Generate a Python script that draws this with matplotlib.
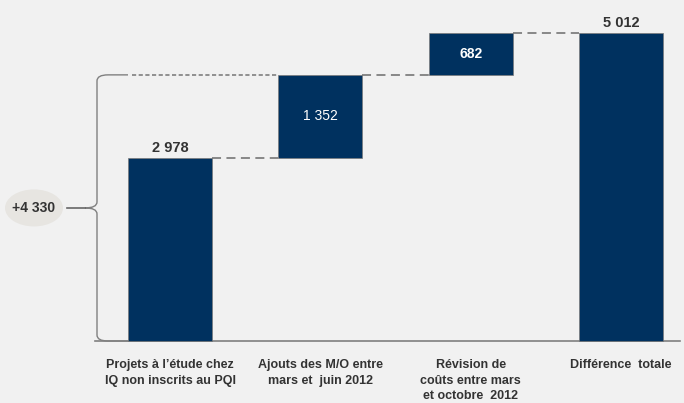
import matplotlib.pyplot as plt
from matplotlib.patches import Ellipse, PathPatch
from matplotlib.path import Path
import numpy as np

plt.rcParams['font.family'] = ['Liberation Sans', 'DejaVu Sans']

categories = ["Projets à l\u2019étude chez\nIQ non inscrits au PQI",
              "Ajouts des M/O entre\nmars et  juin 2012",
              "Révision de\ncoûts entre mars\net octobre  2012",
              "Différence  totale"]
steps = [2978, 1352, 682]
total = 5012
bracket_value = 4330
value_labels = ["2 978", "1 352", "682", "5 012"]

bar_color = '#00315f'
grey = '#808080'
bg = '#f1f1f1'
txt = '#333333'

fig = plt.figure(figsize=(6.84, 4.03), dpi=100, facecolor=bg)
ax = fig.add_axes([0, 0, 1, 1])
ax.set_facecolor(bg)
ax.axis('off')

W, H = 684, 403
x0, xstep = 170, 150.33      # pixel centre of first bar, spacing
base_px, yscale = 341, 0.06146  # pixel baseline (from top), px per unit
ax.set_xlim(-x0 / xstep, (W - x0) / xstep)
ax.set_ylim(-(H - base_px) / yscale, base_px / yscale)
px = 1 / xstep          # one pixel in x data units
py = 1 / yscale         # one pixel in y data units

heights = steps + [total]
bottoms = list(np.concatenate([[0], np.cumsum(steps)[:-1]])) + [0]
xs = np.arange(len(categories))
bw = 0.56
ax.bar(xs, heights, bw, bottom=bottoms, color=bar_color,
       edgecolor='#7a7a7a', linewidth=0.5, zorder=3)

# baseline
ax.plot([(95 - x0) * px, (680 - x0) * px], [0, 0], color=grey, lw=1.2, zorder=2)

# connectors
tops = [b + h for b, h in zip(bottoms, heights)]
for i in range(len(xs) - 1):
    ax.plot([xs[i] + bw / 2, xs[i + 1] - bw / 2], [tops[i], tops[i]],
            color=grey, lw=1.3, dashes=(5, 3), zorder=2)

# value labels
ax.annotate(value_labels[0], (xs[0], tops[0]), xytext=(0, 3), textcoords='offset pixels',
            ha='center', va='bottom', fontsize=10.5, fontweight='bold', color=txt)
ax.annotate(value_labels[3], (xs[3], tops[3]), xytext=(0, 3), textcoords='offset pixels',
            ha='center', va='bottom', fontsize=10.5, fontweight='bold', color=txt)
ax.text(xs[1], bottoms[1] + heights[1] / 2, value_labels[1], ha='center', va='center',
        fontsize=10, color='white', zorder=4)
ax.text(xs[2], bottoms[2] + heights[2] / 2, value_labels[2], ha='center', va='center',
        fontsize=10, fontweight='bold', color='white', zorder=4)

# category labels
for x, c in zip(xs, categories):
    ax.annotate(c, (x, 0), xytext=(0, -18), textcoords='offset pixels', ha='center',
                va='top', fontsize=9, fontweight='bold', color=txt, linespacing=1.4)

# brace from 0 to bracket_value
xv = (97 - x0) * px
xtip = (85 - x0) * px
xend = (128 - x0) * px
xc = (108 - x0) * px
yt, yb = bracket_value, 0
ym = (yt + yb) / 2
r = 6 * py
verts = [(xend, yt), (xc, yt),
         (xv, yt), (xv, yt - r),
         (xv, ym + r),
         (xv, ym), (xtip, ym),
         (xv, ym), (xv, ym - r),
         (xv, yb + r),
         (xv, yb), (xc, yb),
         (xend, yb)]
codes = [Path.MOVETO, Path.LINETO,
         Path.CURVE3, Path.CURVE3,
         Path.LINETO,
         Path.CURVE3, Path.CURVE3,
         Path.CURVE3, Path.CURVE3,
         Path.LINETO,
         Path.CURVE3, Path.CURVE3,
         Path.LINETO]
ax.add_patch(PathPatch(Path(verts, codes), fill=False, edgecolor=grey, lw=1.0, zorder=2))

# dotted line from brace top to second bar
ax.plot([xend + 4 * px, xs[1] - bw / 2], [yt, yt], color=grey, lw=1.2,
        dashes=(2.5, 1.5), zorder=2)

# bracket label
ax.plot([(67 - x0) * px, xtip], [ym, ym], color='#666666', lw=1.2, zorder=2)
ax.add_patch(Ellipse(((34 - x0) * px, ym), 58 * px, 37 * py, facecolor='#e7e5e1',
                     edgecolor='none', zorder=2))
ax.text((34 - x0) * px, ym, "+4 330", ha='center', va='center', fontsize=10,
        fontweight='bold', color=txt, zorder=3)

fig.savefig('out.png', dpi=100, facecolor=bg)
